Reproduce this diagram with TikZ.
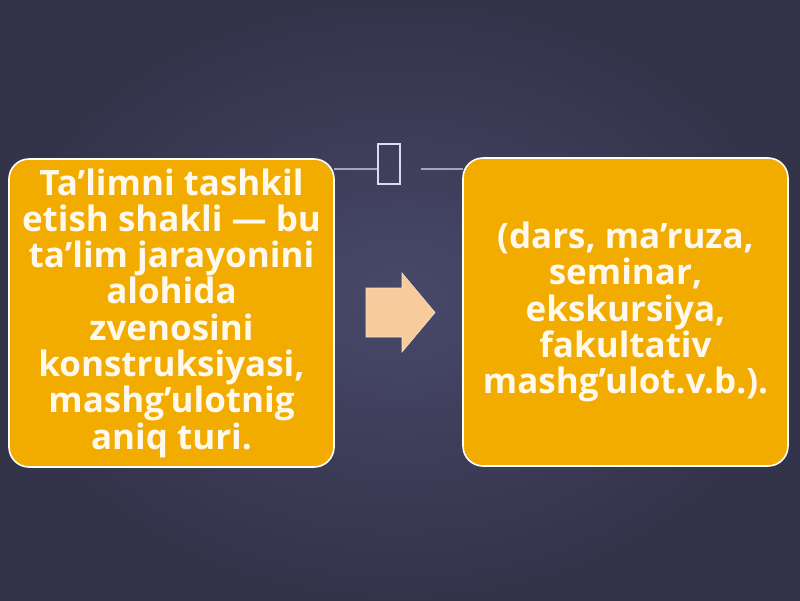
\documentclass[tikz,border=0pt]{standalone}
\usepackage{fontspec}
\setmainfont{Open Sans}
\definecolor{bgin}{HTML}{48486A}
\definecolor{bgout}{HTML}{33334A}
\definecolor{boxfill}{HTML}{F2AC00}
\definecolor{txt}{HTML}{FFF8EC}
\definecolor{arrowfill}{HTML}{F7CB9C}
\definecolor{linec}{HTML}{A4A4C4}
\definecolor{glyphc}{HTML}{DCDCF0}
\tikzset{
  orangebox/.style={draw=white, line width=1.6pt, fill=boxfill, rounded corners=20pt,
    minimum width=325pt, minimum height=308pt, align=center, text=txt,
    font=\fontsize{35}{36.3}\selectfont\bfseries, inner sep=0pt},
  linkline/.style={draw=linec, line width=1.2pt},
  tofu/.style={draw=glyphc, line width=2pt, minimum width=22pt, minimum height=40pt, inner sep=0pt},
  bigarrow/.style={fill=arrowfill, draw=arrowfill!60!white, line width=0.6pt},
}
\begin{document}
\begin{tikzpicture}[x=1pt,y=-1pt]
\useasboundingbox (0,0) rectangle (800,600);
\shade[inner color=bgin, outer color=bgout] (0,0) rectangle (800,600);
\node[orangebox] (left) at (171.5,313) {Ta’limni tashkil\\etish shakli — bu\\ta’lim jarayonini\\alohida\\zvenosini\\konstruksiyasi,\\mashg’ulotnig\\aniq turi.};
\node[orangebox] (right) at (625.5,312) {(dars, ma’ruza,\\seminar,\\ekskursiya,\\fakultativ\\mashg’ulot.v.b.).};
\node[tofu] (glyph) at (388.5,163.5) {};
\coordinate (lstart) at (334,169);
\coordinate (rend) at (463,169);
\draw[linkline] (lstart) -- (glyph.west |- lstart);
\draw[linkline] (421,169) -- (rend);
\draw[bigarrow] (366,288) -- (402,288) -- (402,273) -- (435,312.5) -- (402,352) -- (402,337) -- (366,337) -- cycle;
\end{tikzpicture}
\end{document}
